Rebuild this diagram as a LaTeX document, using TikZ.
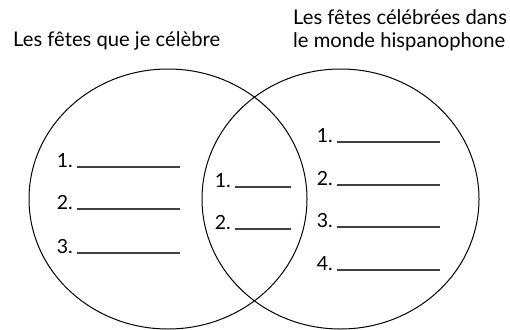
\documentclass[tikz,border=0pt]{standalone}
\usepackage{fontspec}
\setmainfont{Lato}
\begin{document}
\begin{tikzpicture}[x=1pt,y=-1pt,
  ring/.style={draw=black,line width=1pt},
  head/.style={anchor=base west,inner sep=0pt,font=\fontsize{20.2}{24}\selectfont},
  num/.style={anchor=base east,inner sep=0pt,font=\fontsize{19.5}{22}\selectfont},
  blank/.style={draw=black!75,line width=1.3pt}
]
\useasboundingbox (0,0) rectangle (510,329);
\draw[ring] (168,199) ellipse [x radius=139pt, y radius=130pt];
\draw[ring] (340.5,199) ellipse [x radius=138.5pt, y radius=130pt];
\node[head] (h1) at (13,46) {Les fêtes que je célèbre};
\node[head] (h2) at (293,25) {Les fêtes célébrées dans};
\node[head] (h3) at (293,47) {le monde hispanophone};
% left
\foreach \i/\y in {1/167,2/209,3/253}{
  \node[num] (l\i) at (73,\y) {\i.};
  \coordinate (la\i) at (77,\y);
  \coordinate (lb\i) at (180,\y);
  \draw[blank] (la\i) -- (lb\i);
}
% middle
\foreach \i/\y in {1/187,2/229}{
  \node[num] (m\i) at (231,\y) {\i.};
  \coordinate (ma\i) at (235,\y);
  \coordinate (mb\i) at (291,\y);
  \draw[blank] (ma\i) -- (mb\i);
}
% right
\foreach \i/\y in {1/142,2/185,3/227,4/270}{
  \node[num] (r\i) at (333,\y) {\i.};
  \coordinate (ra\i) at (337,\y);
  \coordinate (rb\i) at (440,\y);
  \draw[blank] (ra\i) -- (rb\i);
}
\end{tikzpicture}
\end{document}
